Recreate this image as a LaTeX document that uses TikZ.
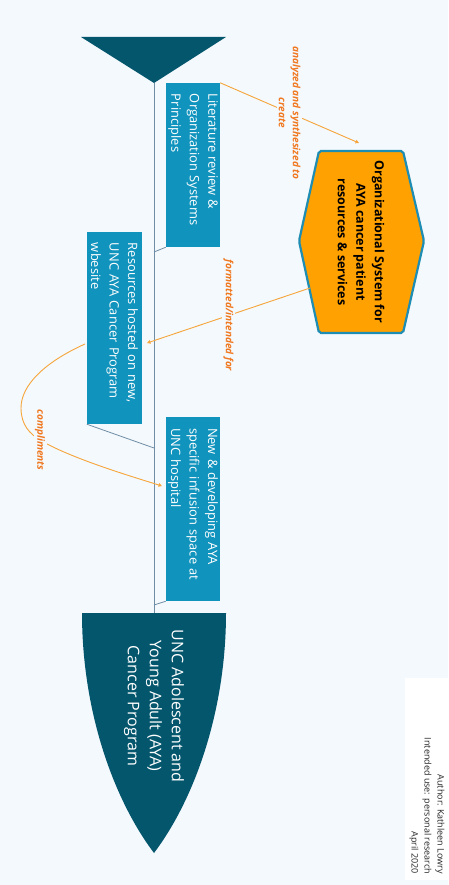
\documentclass[tikz,border=0pt]{standalone}
\usepackage{fontspec}
\setmainfont{Open Sans}
\usetikzlibrary{arrows.meta}
\definecolor{bg}{HTML}{F4F9FD}
\definecolor{dteal}{HTML}{04566D}
\definecolor{boxblue}{HTML}{1093BD}
\definecolor{hexor}{HTML}{FFA100}
\definecolor{hexline}{HTML}{1E8DB3}
\definecolor{conor}{HTML}{F6A53A}
\definecolor{labor}{HTML}{F07820}
\definecolor{spinec}{HTML}{6F8DA5}
\tikzset{
  stepbox/.style={fill=boxblue, text=white, rotate=-90, align=left,
    inner xsep=11pt, inner ysep=0pt, text width=#1,
    font=\fontsize{12.9}{18.5}\selectfont},
  branch/.style={draw=spinec, line width=0.8pt},
  conn/.style={draw=conor, line width=0.9pt, -{Triangle[length=3.5pt,width=3.5pt]}},
  lab/.style={fill=bg, text=labor, rotate=-90, align=center, inner sep=1.5pt,
    font=\fontsize{10}{14}\selectfont\bfseries\itshape},
}
\begin{document}
\begin{tikzpicture}[x=1pt,y=-1pt]
\useasboundingbox (0,0) rectangle (448,885);
\fill[bg] (0,0) rectangle (448,885);

% top triangle
\fill[dteal] (81,37) -- (226,37) -- (154,83) -- cycle;
\coordinate (apex) at (154,83);
% shield
\fill[dteal] (82,613) -- (226,613) .. controls (226,712) and (194,800) .. (154,853)
  .. controls (114,800) and (82,712) .. (82,613) -- cycle;
\coordinate (stop) at (154,613);
\node[text=white, rotate=-90, align=center, font=\fontsize{16}{22}\selectfont]
  (shield) at (154,706) {UNC Adolescent and\\Young Adult (AYA)\\Cancer Program};

% spine
\draw[branch] (apex) -- (stop);

% boxes
\node[stepbox=142pt, minimum height=54pt] (lit) at (193,165)
  {Literature review \&\\Organization Systems\\Principles};
\node[stepbox=170pt, minimum height=55pt] (res) at (114.5,328)
  {Resources hosted on new,\\UNC AYA Cancer Program\\wbesite};
\node[stepbox=162pt, minimum height=54pt] (new) at (193,509)
  {New \& developing AYA\\specific infusion space at\\UNC hospital};

\coordinate (s1) at (154,252);
\coordinate (s2) at (154,448);
\coordinate (s3) at (154,605);
\draw[branch] (s1) -- (lit.south east);
\draw[branch] (s2) -- (res.south east);
\draw[branch] (s3) -- (new.south east);

% hexagon
\draw[draw=hexline, line width=2.2pt, fill=hexor, rounded corners=2pt]
  (319,151) -- (403,151) -- (424,241) -- (403,333) -- (319,333) -- (299,241) -- cycle;
\node[rotate=-90, align=center, font=\fontsize{12.5}{18.5}\selectfont\bfseries]
  (hex) at (361,242) {Organizational System for\\AYA cancer patient\\resources \& services};

% connectors
\coordinate (hexTop) at (359,143);
\coordinate (hexL) at (310,288);
\coordinate (resR) at (147,343);
\coordinate (c1) at (85,344);
\coordinate (c2) at (162,486);
\draw[conn] (lit.north west) -- node[lab]{analyzed and synthesized to\\create} (hexTop);
\draw[conn] (hexL) -- node[lab]{formatted/intended for} (resR);
\draw[conn] (c1) .. controls (45,362) and (21,385) .. (21,408)
  .. controls (21,425) and (30,434) .. (40,440) node[lab]{compliments}
  .. controls (70,458) and (130,476) .. (c2);

% author note
\fill[white] (405,678) rectangle (448,880);
\node[rotate=-90, anchor=east, align=right, inner sep=0pt,
  font=\fontsize{9}{13}\selectfont, text=black!85] (note) at (427,874)
  {Author: Kathleen Lowry\\Intended use: personal research\\April 2020};
\end{tikzpicture}
\end{document}
